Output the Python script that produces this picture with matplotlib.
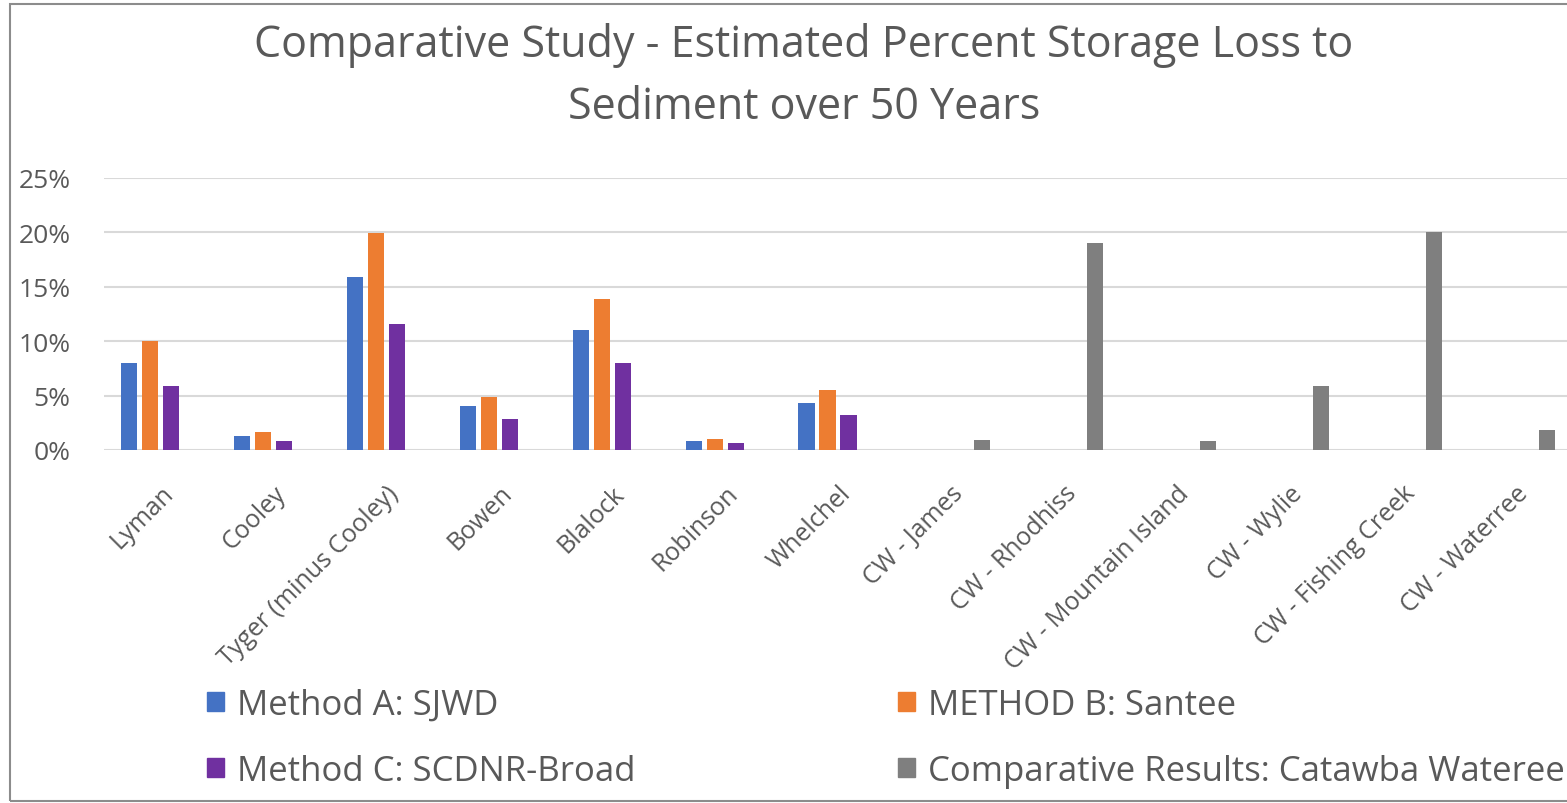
import numpy as np
import matplotlib.pyplot as plt
from matplotlib.patches import Patch, Rectangle
from matplotlib.ticker import PercentFormatter, MultipleLocator

plt.rcParams['font.family'] = ['Open Sans', 'DejaVu Sans']

# reservoirs and percent storage loss after 50 years
reservoirs = ['Lyman', 'Cooley', 'Tyger (minus Cooley)', 'Bowen', 'Blalock', 'Robinson', 'Whelchel',
              'CW - James', 'CW - Rhodhiss', 'CW - Mountain Island', 'CW - Wylie',
              'CW - Fishing Creek', 'CW - Waterree']
method_a = [8.0, 1.25, 15.9, 4.0, 11.0, 0.85, 4.3, 0, 0, 0, 0, 0, 0]
method_b = [10.0, 1.65, 19.9, 4.9, 13.9, 1.05, 5.5, 0, 0, 0, 0, 0, 0]
method_c = [5.9, 0.85, 11.6, 2.85, 8.0, 0.65, 3.2, 0, 0, 0, 0, 0, 0]
catawba = [0, 0, 0, 0, 0, 0, 0, 0.9, 19.0, 0.85, 5.9, 20.0, 1.8]

series = [
    ('Method A: SJWD', method_a, '#4472C4'),
    ('METHOD B: Santee', method_b, '#ED7D31'),
    ('Method C: SCDNR-Broad', method_c, '#7030A0'),
    ('Comparative Results: Catawba Wateree', catawba, '#7F7F7F'),
]

text_color = '#595959'
W, H = 1567, 804
fig = plt.figure(figsize=(W / 100, H / 100), dpi=100)

# chart frame
fig.patches.append(Rectangle((10 / W, 2 / H), 1.2, (H - 7) / H, transform=fig.transFigure,
                             fill=False, edgecolor='#8c8c8c', linewidth=1.5))

ax = fig.add_axes([104 / W, (H - 451) / H, (1572 - 104) / W, (451 - 179) / H])

x = np.arange(len(reservoirs))
step = 0.186
width = 0.142
for i, (name, vals, color) in enumerate(series):
    ax.bar(x + (i - 1.5) * step, vals, width=width, color=color, label=name, zorder=3)

ax.set_xlim(-0.5, len(reservoirs) - 0.5)
ax.set_ylim(0, 25)
ax.yaxis.set_major_locator(MultipleLocator(5))
ax.yaxis.set_major_formatter(PercentFormatter(100, decimals=0))
ax.grid(axis='y', color='#d9d9d9', linewidth=1.5, zorder=0)
for s in ax.spines.values():
    s.set_visible(False)
ax.tick_params(axis='y', length=0, pad=24, labelsize=19, labelcolor=text_color)
ax.tick_params(axis='x', length=0, pad=22)
ax.set_xticks(x)
ax.set_xticklabels(reservoirs, rotation=45, ha='right', rotation_mode='anchor',
                   fontsize=18, color=text_color)

fig.text(0.513, (H - 45) / H, 'Comparative Study - Estimated Percent Storage Loss to',
         ha='center', va='center', fontsize=31, color=text_color)
fig.text(0.513, (H - 108) / H, 'Sediment over 50 Years',
         ha='center', va='center', fontsize=31, color=text_color)

# legend in two columns, filled row by row
handles = [Patch(color=c, label=n) for n, _, c in series]
for col, xpos in [(0, 207), (1, 898)]:
    leg = fig.legend(handles=handles[col::2], loc='upper left',
                     bbox_to_anchor=(xpos / W, (H - 689) / H), frameon=False,
                     fontsize=25, labelcolor=text_color, borderpad=0, borderaxespad=0,
                     handlelength=0.49, handleheight=0.49, handletextpad=0.37,
                     labelspacing=0.92)

fig.savefig('out.png', dpi=100)
